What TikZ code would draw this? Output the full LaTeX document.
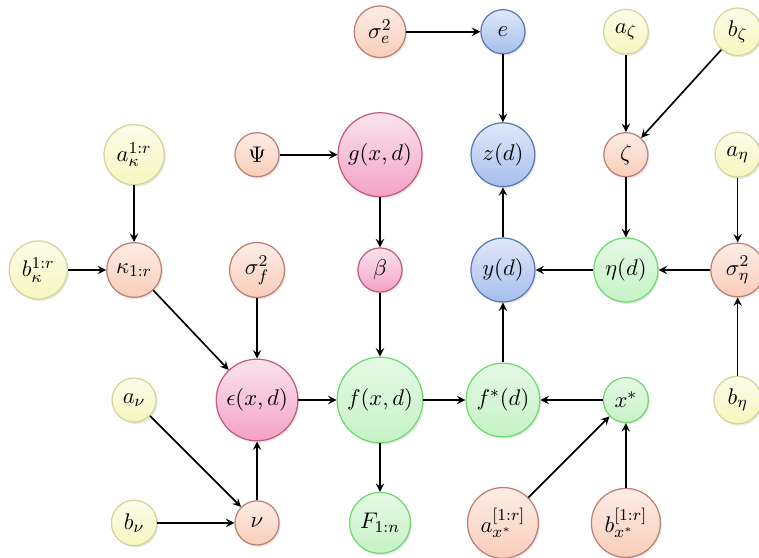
\documentclass[tikz,border=0pt]{standalone}
\usetikzlibrary{shapes,arrows,shadows,positioning}
\def\gridgap{2.09cm}
\def\rowup{0.12cm}
\def\rowdown{-0.13cm}
\def\edgeshift{0.19cm}

\definecolor{hyperfill}{HTML}{F6F6BE}
\definecolor{hyperline}{HTML}{D4D49C}
\definecolor{paramfill}{HTML}{F9CDB9}
\definecolor{paramline}{HTML}{BE7F72}
\definecolor{gpfill}{HTML}{F3A2C6}
\definecolor{gpline}{HTML}{C45A7C}
\definecolor{simfill}{HTML}{C6F2C6}
\definecolor{simline}{HTML}{6CDC6C}
\definecolor{obsfill}{HTML}{A6BEEE}
\definecolor{obsline}{HTML}{5A78B8}

\begin{document}
\begin{tikzpicture}[
            node distance=\gridgap,
            latent/.style={%
                circle, semithick, minimum size=0.75cm, inner sep=3pt,%
                text centered, font=\fontsize{11}{13}\selectfont,%
                drop shadow={opacity=0.18, shadow xshift=0.7pt, shadow yshift=-0.9pt}%
            },
            hypernode/.style={%
                latent, draw=hyperline, top color=hyperfill!30, bottom color=hyperfill%
            },
            paramnode/.style={%
                latent, draw=paramline, top color=paramfill!35, bottom color=paramfill%
            },
            gpnode/.style={%
                latent, draw=gpline, top color=gpfill!30, bottom color=gpfill%
            },
            simnode/.style={%
                latent, draw=simline, top color=simfill!45, bottom color=simfill%
            },
            obsnode/.style={%
                latent, draw=obsline, top color=obsfill!35, bottom color=obsfill%
            },
            arrow/.style={thick,->,>=stealth}
        ]

        \useasboundingbox (-6.46,-2.686) rectangle (6.443,6.8);

        % Define nodes
        \node (fxd) [simnode] {$f(x,d)$};
        \node (beta) [gpnode, above of=fxd, yshift=\rowup] {$\beta$};
        \node (gxd) [gpnode, above of=beta, yshift=\rowdown] {$g(x,d)$};
        \node (psi) [paramnode, left of=gxd] {$\Psi$};
        \node (sigf) [paramnode, left of=beta] {$\sigma^2_f$};
        \node (eps) [gpnode, left of=fxd] {$\epsilon(x,d)$};
        \node (nu) [paramnode, below of=eps] {$\nu$};
        \node (kappa) [paramnode, left of=sigf] {$\kappa_{1:r}$};
        \node (akappa) [hypernode, left of=psi] {$a^{1:r}_{\kappa}$};
        \node (bkappa) [hypernode, left of=kappa, xshift=0.46cm] {$b^{1:r}_{\kappa}$};
        \node (anu) [hypernode, left of=eps] {$a_{\nu}$};
        \node (bnu) [hypernode, left of=nu] {$b_{\nu}$};
        \node (Fobs) [simnode, below of=fxd] {$F_{1:n}$};

        \node (fstar) [simnode, right of=fxd] {$f^{*}(d)$};
        \node (yd) [obsnode, above of=fstar, yshift=\rowup] {$y(d)$};
        \node (zd) [obsnode, above of=yd, yshift=\rowdown] {$z(d)$};
        \node (err) [obsnode, above of=zd] {$e$};
        \node (sige) [paramnode, left of=err] {$\sigma^2_e$};
        \node (xstar) [simnode, right of=fstar] {$x^{*}$};
        \node (axstar) [paramnode, below of=fstar] {$a^{[1:r]}_{x^{*}}$};
        \node (bxstar) [paramnode, below of=xstar] {$b^{[1:r]}_{x^{*}}$};

        \node (etad) [simnode, right of=yd] {$\eta(d)$};
        \node (zeta) [paramnode, right of=zd] {$\zeta$};
        \node (azeta) [hypernode, right of=err] {$a_{\zeta}$};
        \node (bzeta) [hypernode, right of=azeta, xshift=-\edgeshift] {$b_{\zeta}$};
        \node (aeta) [hypernode, right of=zeta, xshift=-\edgeshift] {$a_{\eta}$};
        \node (sigeta) [paramnode, right of=etad, xshift=-\edgeshift] {$\sigma^2_{\eta}$};
        \node (beta_eta) [hypernode, right of=xstar, xshift=-\edgeshift] {$b_{\eta}$};

        \draw [arrow] (akappa) -- (kappa);
        \draw [arrow] (bkappa) -- (kappa);
        \draw [arrow] (kappa) -- (eps);
        \draw [arrow] (sigf) -- (eps);
        \draw [arrow] (anu) -- (nu);
        \draw [arrow] (bnu) -- (nu);
        \draw [arrow] (nu) -- (eps);
        \draw [arrow] (psi) -- (gxd);
        \draw [arrow] (gxd) -- (beta);
        \draw [arrow] (beta) -- (fxd);
        \draw [arrow] (eps) -- (fxd);
        \draw [arrow] (fxd) -- (Fobs);
        \draw [arrow] (fxd) -- (fstar);

        \draw [arrow] (sige) -- (err);
        \draw [arrow] (err) -- (zd);
        \draw [arrow] (yd) -- (zd);
        \draw [arrow] (fstar) -- (yd);
        \draw [arrow] (xstar) -- (fstar);
        \draw [arrow] (axstar) -- (xstar);
        \draw [arrow] (bxstar) -- (xstar);

        \draw [arrow] (azeta) -- (zeta);
        \draw [arrow] (bzeta) -- (zeta);
        \draw [arrow] (zeta) -- (etad);
        \draw [arrow] (aeta) -- (sigeta);
        \draw [arrow] (beta_eta) -- (sigeta);
        \draw [arrow] (sigeta) -- (etad);
        \draw [arrow] (etad) -- (yd);

        \end{tikzpicture}
\end{document}
